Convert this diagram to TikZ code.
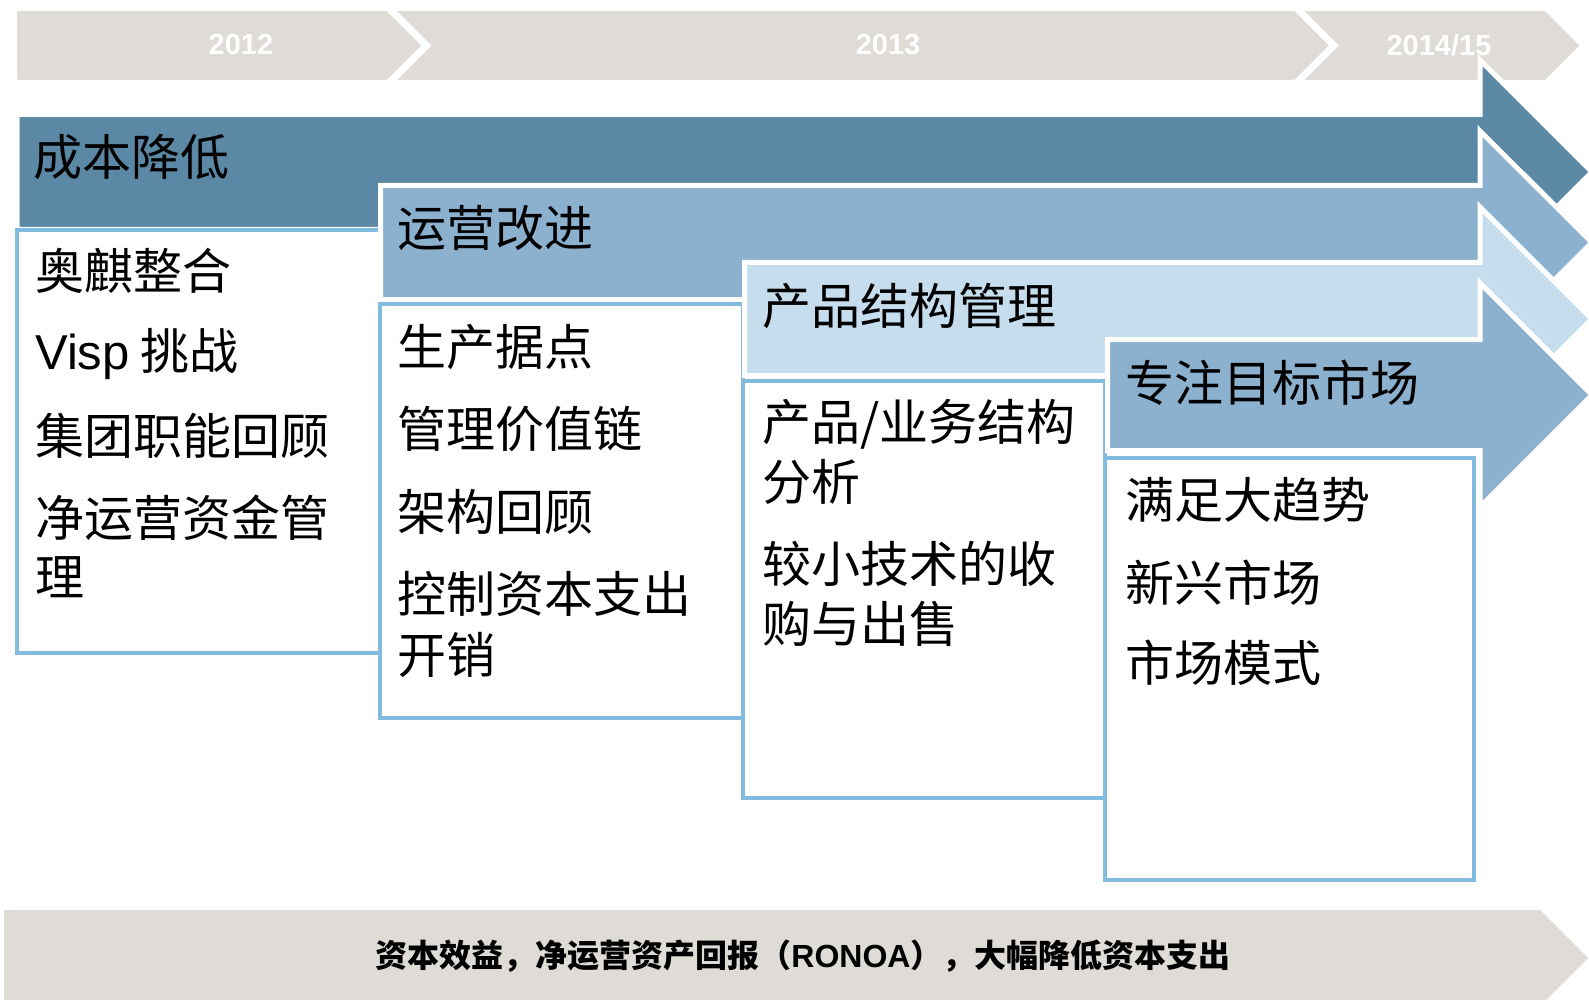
\documentclass[tikz,border=0pt]{standalone}
\usepackage{fontspec}
\setmainfont{Noto Sans CJK SC}
\newfontfamily\lat{Liberation Sans}
\definecolor{bandc}{HTML}{DFDBD7}
\definecolor{aone}{HTML}{5B88A4}
\definecolor{atwo}{HTML}{8BB1CE}
\definecolor{athree}{HTML}{C6DDED}
\definecolor{boxc}{HTML}{82BBE0}
\tikzset{
  band/.style={fill=bandc, draw=white, line width=7pt, line join=miter},
  arr/.style={draw=white, line width=5pt, line join=miter},
  bx/.style={draw=boxc, line width=4.5pt, fill=white},
  yr/.style={text=white, font=\lat\bfseries\fontsize{29}{32}\selectfont, inner sep=0pt},
  hdr/.style={anchor=west, inner sep=0pt, font=\fontsize{49}{55}\selectfont},
  itm/.style={anchor=west, inner sep=0pt, font=\fontsize{49}{55}\selectfont},
}
\begin{document}
\begin{tikzpicture}[x=1pt, y=-1pt]
\useasboundingbox (0,0) rectangle (1589,1000);
% top time band
\path[band] (13.5,7.5) -- (388.5,7.5) -- (426.5,45.5) -- (388.5,83.5) -- (13.5,83.5) -- cycle;
\path[band] (388.5,7.5) -- (1296,7.5) -- (1334,45.5) -- (1296,83.5) -- (388.5,83.5) -- (426.5,45.5) -- cycle;
\path[band] (1296,7.5) -- (1546.5,7.5) -- (1584.5,45.5) -- (1546.5,83.5) -- (1296,83.5) -- (1334,45.5) -- cycle;
\node[yr] (y1) at (241,45) {2012};
\node[yr] (y2) at (888,45) {2013};
\node[yr] (y3) at (1439,45) {2014/15};
% arrow 1
\path[arr, fill=aone] (17,114.5) -- (1480,114.5) -- (1480,60) -- (1592,172) -- (1480,284) -- (1480,229.5) -- (17,229.5) -- cycle;
\path[bx] (17,230) rectangle (380,653);
% arrow 2
\path[arr, fill=atwo] (380.5,185.5) -- (1480,185.5) -- (1480,131) -- (1592,242.5) -- (1480,354) -- (1480,299.5) -- (380.5,299.5) -- cycle;
\path[bx] (380,304) rectangle (743,718);
% arrow 3
\path[arr, fill=athree] (744.5,262.5) -- (1480,262.5) -- (1480,207) -- (1592,319) -- (1480,431) -- (1480,375.5) -- (744.5,375.5) -- cycle;
\path[bx] (743,381) rectangle (1105,798);
% arrow 4
\path[arr, fill=atwo] (1107.5,339.5) -- (1480,339.5) -- (1480,283) -- (1592,395) -- (1480,507) -- (1480,450.5) -- (1107.5,450.5) -- cycle;
\path[bx] (1105,458) rectangle (1474,880);
% headers
\node[hdr] (h1) at (33,157) {成本降低};
\node[hdr] (h2) at (397,228) {运营改进};
\node[hdr] (h3) at (762,306) {产品结构管理};
\node[hdr] (h4) at (1125,383) {专注目标市场};
% box 1
\node[itm] (b1a) at (35,271) {奥麒整合};
\node[itm] (b1b) at (35,354) {{\lat Visp} 挑战};
\node[itm] (b1c) at (35,436) {集团职能回顾};
\node[itm] (b1d) at (35,518) {净运营资金管};
\node[itm] (b1e) at (35,577) {理};
% box 2
\node[itm] (b2a) at (397,347) {生产据点};
\node[itm] (b2b) at (397,429) {管理价值链};
\node[itm] (b2c) at (397,512) {架构回顾};
\node[itm] (b2d) at (397,594) {控制资本支出};
\node[itm] (b2e) at (397,655) {开销};
% box 3
\node[itm] (b3a) at (762,424) {产品/业务结构};
\node[itm] (b3b) at (762,482) {分析};
\node[itm] (b3c) at (762,564) {较小技术的收};
\node[itm] (b3d) at (762,624) {购与出售};
% box 4
\node[itm] (b4a) at (1125,500) {满足大趋势};
\node[itm] (b4b) at (1125,583) {新兴市场};
\node[itm] (b4c) at (1125,663) {市场模式};
% bottom bar
\path[fill=bandc] (4,910) -- (1540,910) -- (1588,958) -- (1540,1006) -- (4,1006) -- cycle;
\node[inner sep=0pt, font=\bfseries\fontsize{32}{36}\selectfont] (bt) at (803,956) {资本效益，净运营资产回报（{\lat\bfseries RONOA}），大幅降低资本支出};
\end{tikzpicture}
\end{document}
